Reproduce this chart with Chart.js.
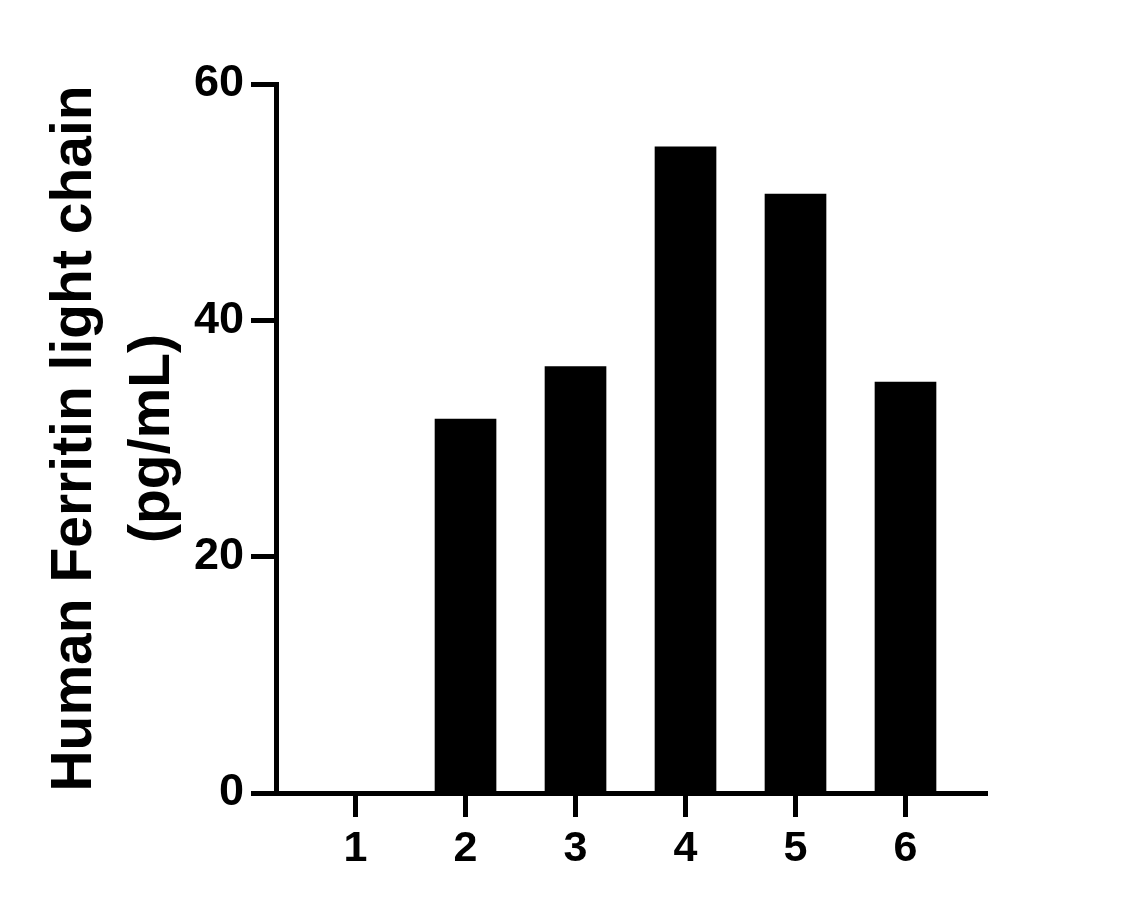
<!DOCTYPE html>
<html>
<head>
<meta charset="utf-8">
<script src="https://cdn.jsdelivr.net/npm/chart.js@4/dist/chart.umd.min.js"></script>
<style>
  html, body { margin: 0; padding: 0; background: #ffffff; }
  #wrap { width: 1123px; height: 909px; position: relative; }
</style>
</head>
<body>
<div id="wrap"><canvas id="c" width="1123" height="909"></canvas></div>
<script>
// ---- data ----
const categories = [1, 2, 3, 4, 5, 6];
const values = [0, 31.65, 36.08, 54.69, 50.69, 34.78];
const xTickValues = [1, 2, 3, 4, 5, 6];
const yTickValues = [0, 20, 40, 60];
const yTitleLines = ['Human Ferritin light chain', '(pg/mL)'];

Chart.defaults.font.family = "'Liberation Sans', Arial, Helvetica, sans-serif";
Chart.defaults.color = '#000';

const chartData = {
  datasets: [{
    data: categories.map((c, i) => ({ x: c, y: values[i] })),
    backgroundColor: '#000',
    borderWidth: 0,
    barThickness: 61
  }]
};

new Chart(document.getElementById('c'), {
  type: 'bar',
  data: chartData,
  options: {
    responsive: false,
    animation: false,
    devicePixelRatio: 1,
    layout: { padding: { top: 84, right: 136, bottom: 0, left: 0 } },
    plugins: { legend: { display: false }, tooltip: { enabled: false } },
    scales: {
      x: {
        type: 'linear',
        offset: false,
        min: 0.277,
        max: 6.741,
        afterBuildTicks: s => { s.ticks = xTickValues.map(v => ({ value: v })); },
        afterFit: s => { s.height = 909 - 793; },
        grid: { display: true, offset: false, drawOnChartArea: false, drawTicks: true, tickLength: 24, tickWidth: 5, tickColor: '#000', color: '#000' },
        border: { display: true, width: 5, color: '#000' },
        ticks: { font: { size: 43, weight: 'bold' }, padding: 6, color: '#000', maxRotation: 0, callback: v => String(v) }
      },
      y: {
        type: 'linear',
        min: 0,
        max: 60,
        afterBuildTicks: s => { s.ticks = yTickValues.map(v => ({ value: v })); },
        afterFit: s => { s.width = 276; },
        grid: { display: true, drawOnChartArea: false, drawTicks: true, tickLength: 25, tickWidth: 5, tickColor: '#000', color: '#000' },
        border: { display: true, width: 5, color: '#000' },
        ticks: { font: { size: 45, weight: 'bold' }, padding: 7, color: '#000' },
        title: {
          display: true,
          text: yTitleLines,
          color: '#000',
          font: { size: 57, weight: 'bold', lineHeight: 1.36 },
          padding: { top: 37, bottom: 0 }
        }
      }
    }
  }
});
</script>
</body>
</html>
